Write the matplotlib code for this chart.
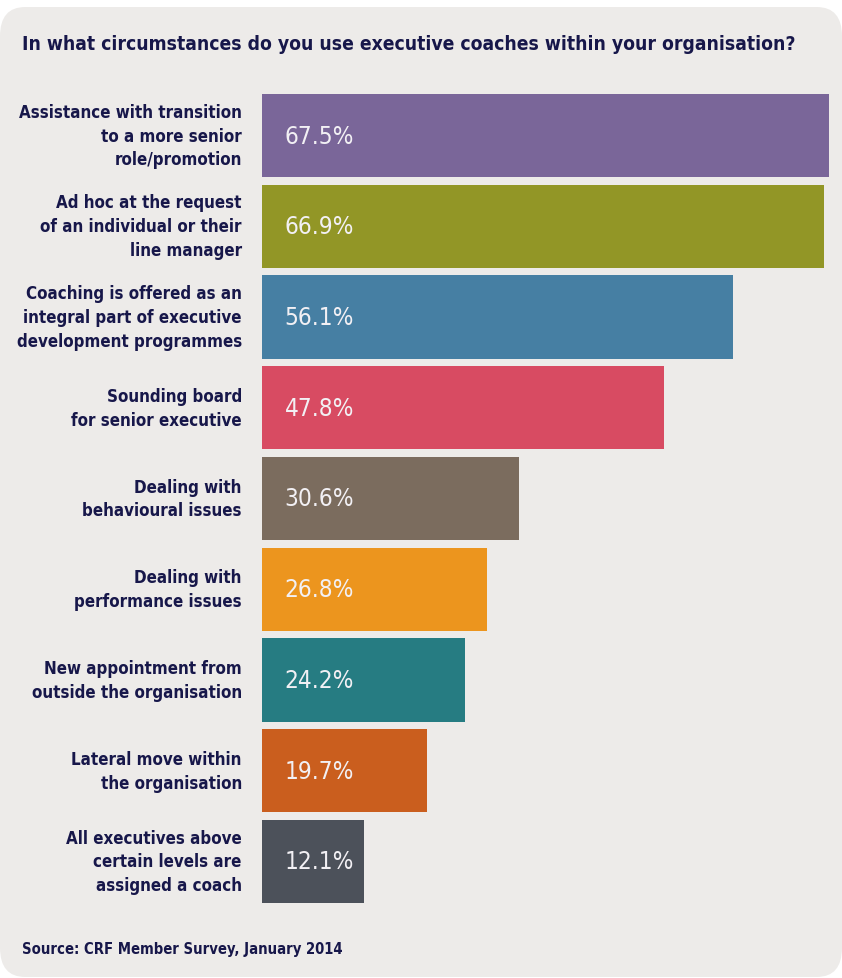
import matplotlib.pyplot as plt
from matplotlib.patches import FancyBboxPatch

# survey answers, top to bottom
categories = [
    'Assistance with transition\nto a more senior\nrole/promotion',
    'Ad hoc at the request\nof an individual or their\nline manager',
    'Coaching is offered as an\nintegral part of executive\ndevelopment programmes',
    'Sounding board\nfor senior executive',
    'Dealing with\nbehavioural issues',
    'Dealing with\nperformance issues',
    'New appointment from\noutside the organisation',
    'Lateral move within\nthe organisation',
    'All executives above\ncertain levels are\nassigned a coach',
]
values = [67.5, 66.9, 56.1, 47.8, 30.6, 26.8, 24.2, 19.7, 12.1]
bar_colors = ['#7A6699', '#929626', '#467FA3', '#D84B62', '#7B6C5E',
              '#EC951E', '#267C82', '#CA5E1E', '#4C515A']

title = 'In what circumstances do you use executive coaches within your organisation?'
source = 'Source: CRF Member Survey, January 2014'

navy = '#17174A'

fig = plt.figure(figsize=(8.42, 9.79), dpi=100)
fig.patch.set_facecolor('white')

# rounded grey panel behind everything
panel = FancyBboxPatch((0.0, 1 / 979), 1.0, 970 / 979,
                       boxstyle='round,pad=0,rounding_size=0.03',
                       transform=fig.transFigure, facecolor='#EDEBE9',
                       edgecolor='none', zorder=-5)
fig.patches.append(panel)

ax = fig.add_axes([262 / 842, 75 / 979, 567 / 842, 809 / 979])
ax.set_facecolor('none')
ax.set_zorder(2)

ypos = list(range(len(values)))
ax.barh(ypos, values, height=0.915, color=bar_colors)
ax.set_xlim(0, 67.5)
ax.set_ylim(len(values) - 1 + 0.4575, -0.4575)

for y, v in zip(ypos, values):
    ax.text(2.7, y, f'{v:.1f}%', va='center', ha='left', color='#F2F0F4',
            fontsize=17.5, family='DejaVu Sans', fontstretch='condensed',
            fontweight='light')

for y, lab in zip(ypos, categories):
    ax.text(-2.4, y, lab, va='center', ha='right', color=navy,
            fontsize=12.2, fontweight='bold', family='DejaVu Sans',
            fontstretch='condensed', linespacing=1.42)

ax.axis('off')

fig.text(22 / 842, 1 - 45 / 979, title, ha='left', va='center', color=navy,
         fontsize=13.9, fontweight='bold', family='DejaVu Sans',
         fontstretch='condensed')
fig.text(22 / 842, 1 - 950 / 979, source, ha='left', va='center', color=navy,
         fontsize=10.6, fontweight='bold', family='DejaVu Sans',
         fontstretch='condensed')

fig.savefig('out.png', dpi=100)
